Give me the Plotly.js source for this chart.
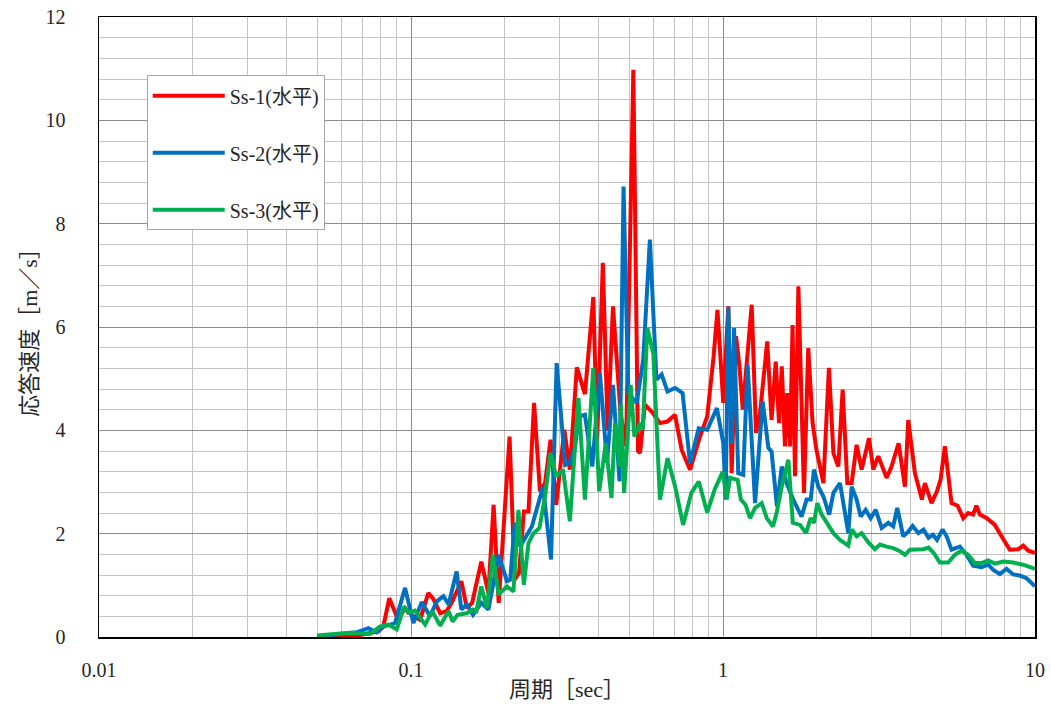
<!DOCTYPE html>
<html>
<head>
<meta charset="utf-8">
<script src="https://cdn.plot.ly/plotly-3.0.1.min.js"></script>
<style>
  html, body { margin: 0; padding: 0; background: #ffffff; }
  #chart { width: 1051px; height: 704px; }
</style>
</head>
<body>
<div id="chart"></div>
<script>
// ---- data (period [sec], response velocity [m/s]) ----
const seriesNames = ["Ss-1(水平)", "Ss-2(水平)", "Ss-3(水平)"];
const seriesColors = ["#ff0000", "#0070c0", "#00b050"];

const periodSs1 = [0.05,0.0638,0.0677,0.0739,0.0786,0.0815,0.0852,0.0910,0.0957,0.1018,
  0.107,0.1136,0.1179,0.124,0.130,0.135,0.145,0.151,0.157,0.168,
  0.177,0.184,0.191,0.207,0.215,0.222,0.230,0.238,0.248,0.259,
  0.269,0.280,0.292,0.310,0.323,0.340,0.361,0.384,0.395,0.412,
  0.427,0.444,0.462,0.470,0.489,0.516,0.534,0.542,0.562,0.583,
  0.597,0.628,0.663,0.702,0.737,0.784,0.844,0.890,0.933,0.960,
  1.002,1.040,1.066,1.101,1.129,1.157,1.236,1.276,1.314,1.386,
  1.431,1.476,1.512,1.543,1.580,1.606,1.640,1.671,1.701,1.744,
  1.818,1.876,1.937,1.993,2.046,2.098,2.185,2.259,2.342,2.418,
  2.503,2.585,2.681,2.782,2.937,3.031,3.146,3.345,3.469,3.654,
  3.829,3.924,4.122,4.34,4.437,4.66,4.85,4.98,5.142,5.40,
  5.65,5.89,6.107,6.33,6.49,6.656,7.01,7.434,7.81,8.303,
  8.83,9.17,9.51,10];
const velSs1 = [0.01,0.01,0.03,0.08,0.11,0.2,0.75,0.33,0.56,0.4,
  0.33,0.85,0.74,0.46,0.5,0.66,1.08,0.56,0.66,1.46,
  0.85,2.56,0.66,3.88,1.11,1.24,2.43,2.43,4.53,2.82,
  2.98,3.82,2.56,4.01,3.24,5.22,4.7,6.58,3.8,7.24,
  4.0,6.4,4.85,4.3,3.7,10.98,3.6,3.56,4.5,4.4,
  4.33,4.14,4.17,4.3,3.62,3.24,3.88,4.27,5.43,6.33,
  4.53,6.4,3.17,5.82,5.24,4.4,6.43,3.95,4.33,5.72,
  4.2,5.33,4.14,5.24,3.69,4.72,3.69,6.04,3.11,6.79,
  2.79,5.59,4.14,3.62,3.24,2.98,5.21,3.56,3.3,4.79,
  2.98,2.98,3.72,3.24,3.85,3.24,3.5,3.08,3.3,3.75,
  2.91,4.2,3.17,2.66,2.98,2.59,2.82,3.04,3.69,2.59,
  2.54,2.3,2.4,2.37,2.54,2.37,2.3,2.17,1.95,1.69,
  1.7,1.77,1.67,1.63];

const periodSs2 = [0.05,0.0622,0.0670,0.0730,0.0776,0.0815,0.0889,0.0957,0.1018,0.1083,
  0.115,0.121,0.127,0.132,0.140,0.145,0.151,0.158,0.168,0.177,
  0.191,0.203,0.208,0.215,0.224,0.244,0.265,0.281,0.293,0.312,
  0.323,0.335,0.346,0.361,0.381,0.403,0.425,0.444,0.466,0.480,
  0.497,0.529,0.555,0.583,0.612,0.636,0.664,0.702,0.742,0.784,
  0.836,0.890,0.956,1.002,1.020,1.040,1.066,1.085,1.119,1.161,
  1.199,1.267,1.340,1.398,1.431,1.489,1.543,1.599,1.679,1.786,
  1.853,1.910,1.957,2.021,2.098,2.190,2.259,2.371,2.460,2.522,
  2.585,2.681,2.762,2.866,2.974,3.086,3.225,3.387,3.513,3.619,
  3.781,3.924,4.054,4.229,4.393,4.558,4.709,4.851,5.056,5.207,
  5.402,5.743,6.036,6.336,6.738,7.078,7.352,7.714,8.104,8.511,
  8.938,9.39,10];
const velSs2 = [0.01,0.06,0.09,0.17,0.09,0.2,0.27,0.95,0.27,0.68,
  0.4,0.69,0.79,0.63,1.27,0.53,0.63,0.43,0.66,0.53,
  1.59,1.08,1.11,2.21,1.75,2.14,2.91,1.5,5.3,3.33,
  3.37,3.66,4.27,4.3,3.3,5.11,3.37,4.88,3.01,8.72,
  4.72,4.53,5.37,7.69,4.98,5.08,4.75,4.82,4.72,3.37,
  4.04,4.01,4.43,3.75,2.66,6.37,3.75,5.98,3.17,3.14,
  5.27,2.59,4.56,3.66,3.59,2.53,3.3,2.98,2.66,2.33,
  2.66,2.66,3.24,2.91,2.72,2.37,2.79,2.98,2.46,2.01,
  2.91,2.66,2.33,2.46,2.3,2.46,2.11,2.21,2.14,2.5,
  1.95,2.04,2.15,2.01,2.08,1.92,1.98,1.88,2.08,1.95,
  1.69,1.75,1.59,1.38,1.35,1.4,1.3,1.22,1.32,1.21,
  1.19,1.14,0.98];

const periodSs3 = [0.05,0.0638,0.0739,0.0795,0.0844,0.0900,0.095,0.0978,0.103,0.111,
  0.117,0.124,0.132,0.136,0.141,0.151,0.158,0.162,0.168,0.175,
  0.183,0.191,0.203,0.213,0.221,0.230,0.238,0.247,0.258,0.269,
  0.280,0.292,0.307,0.323,0.344,0.361,0.384,0.401,0.421,0.439,
  0.451,0.466,0.471,0.482,0.506,0.520,0.542,0.553,0.572,0.598,
  0.628,0.664,0.702,0.745,0.792,0.836,0.890,0.940,0.998,1.028,
  1.053,1.114,1.141,1.181,1.221,1.267,1.331,1.381,1.446,1.489,
  1.543,1.620,1.674,1.765,1.845,1.910,1.957,2.006,2.071,2.149,
  2.259,2.371,2.522,2.585,2.681,2.782,2.923,3.069,3.185,3.345,
  3.513,3.690,3.829,3.973,4.180,4.393,4.558,4.729,4.956,5.272,
  5.536,5.814,6.107,6.415,6.738,7.078,7.434,7.900,8.511,9.166,10];
const velSs3 = [0.03,0.08,0.06,0.2,0.24,0.15,0.59,0.47,0.51,0.24,
  0.5,0.22,0.5,0.3,0.43,0.46,0.53,0.5,0.98,0.56,
  1.59,0.82,0.98,0.88,2.46,1.01,1.82,2.01,2.11,2.72,
  3.56,3.11,3.24,2.24,4.63,2.66,5.21,2.82,3.75,2.69,
  4.14,3.3,4.5,2.79,4.88,3.88,4.14,4.01,5.98,5.48,
  2.66,3.46,2.92,2.17,2.79,3.01,2.41,2.85,3.2,2.66,
  3.08,3.04,2.66,2.56,2.3,2.5,2.59,2.3,2.14,2.43,
  2.91,3.43,2.21,2.17,2.01,2.3,2.21,2.59,2.37,2.21,
  2.01,1.88,1.77,2.08,1.95,2.01,1.83,1.7,1.79,1.75,
  1.72,1.66,1.59,1.69,1.7,1.7,1.73,1.63,1.44,1.44,
  1.59,1.67,1.59,1.43,1.43,1.48,1.42,1.46,1.44,1.4,1.32];

const xTickVals = [0.01, 0.1, 1, 10];
const xTickText = ["0.01", "0.1", "1", "10"];
const yTickVals = [0, 2, 4, 6, 8, 10, 12];

const xTitle = "周期［sec］";
const yTitle = "応答速度［m／s］";

// ---- chart ----
const FONT = "'Liberation Serif', 'Noto Sans CJK JP', serif";
const periods = [periodSs1, periodSs2, periodSs3];
const vels = [velSs1, velSs2, velSs3];

const traces = seriesNames.map((name, i) => ({
  type: "scatter",
  mode: "lines",
  name: name,
  legendgroup: "g" + i,
  x: periods[i],
  y: vels[i],
  line: { color: seriesColors[i], width: 4, shape: "linear" },
  hoverinfo: "x+y+name"
}));

const layout = {
  width: 1051,
  height: 704,
  margin: { l: 99, r: 16, t: 17, b: 67, pad: 0 },
  paper_bgcolor: "#ffffff",
  plot_bgcolor: "#ffffff",
  font: { family: FONT, color: "#262626", size: 18 },
  showlegend: true,
  legend: {
    x: 0.051, y: 0.906, xanchor: "left", yanchor: "top",
    bgcolor: "#ffffff",
    bordercolor: "#a6a6a6",
    borderwidth: 1,
    font: { family: FONT, size: 20, color: "#262626" },
    tracegroupgap: 28,
    itemwidth: 72,
    traceorder: "grouped"
  },
  xaxis: {
    type: "log",
    range: [-2, 1],
    tickmode: "array",
    tickvals: xTickVals,
    ticktext: xTickText,
    ticks: "",
    ticklabelstandoff: 14,
    tickfont: { family: FONT, size: 20, color: "#262626" },
    showgrid: true,
    gridcolor: "#8c8c8c",
    gridwidth: 1,
    minor: { showgrid: true, gridcolor: "#c4c4c4", gridwidth: 1, dtick: "D1", ticks: "" },
    showline: true,
    linecolor: "#000000",
    linewidth: 1.5,
    mirror: true,
    zeroline: false,
    title: { text: xTitle, font: { family: FONT, size: 22, color: "#262626" }, standoff: 2 },
    automargin: false
  },
  yaxis: {
    range: [0, 12],
    tickmode: "array",
    tickvals: yTickVals,
    ticks: "",
    ticklabelstandoff: 28,
    tickfont: { family: FONT, size: 20, color: "#262626" },
    showgrid: true,
    gridcolor: "#8c8c8c",
    gridwidth: 1,
    minor: { showgrid: true, gridcolor: "#c4c4c4", gridwidth: 1, dtick: 0.4, ticks: "" },
    showline: true,
    linecolor: "#000000",
    linewidth: 1.5,
    mirror: true,
    zeroline: false,
    title: { text: yTitle, font: { family: FONT, size: 22, color: "#262626" }, standoff: 2 },
    automargin: false
  }
};

Plotly.newPlot("chart", traces, layout, { displayModeBar: false, staticPlot: true });
</script>
</body>
</html>
